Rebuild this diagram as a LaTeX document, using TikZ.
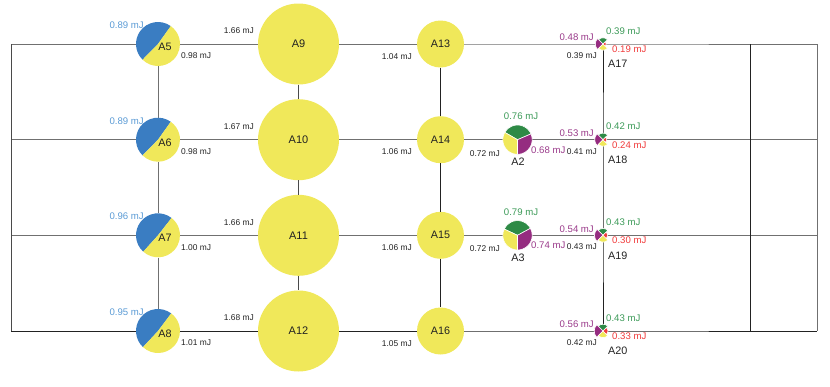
\documentclass[tikz,border=0pt]{standalone}
\usepackage{fontspec}
\setmainfont{Liberation Sans}
\usetikzlibrary{positioning}

\definecolor{pyellow}{HTML}{F0E85A}
\definecolor{pblue}{HTML}{3A7DC2}
\definecolor{lblue}{HTML}{5B9BD5}
\definecolor{pgreen}{HTML}{2E8A46}
\definecolor{lgreen}{HTML}{3C9A58}
\definecolor{ppurple}{HTML}{952C80}
\definecolor{lpurple}{HTML}{9A3A8A}
\definecolor{pred}{HTML}{F03A3A}
\definecolor{lgrey}{HTML}{707070}
\definecolor{dgrey}{HTML}{4A4A4A}
\definecolor{txt}{HTML}{222222}

% one wedge: centre, start, end, radius, style
\newcommand{\pieslice}[5]{\fill[#5] (#1) -- ++(#2:#4) arc[start angle=#2, end angle=#3, radius=#4] -- cycle;}

\begin{document}
\begin{tikzpicture}[x=1pt, y=-1pt,
        bigc/.style={circle, fill=pyellow, minimum size=81pt, inner sep=0pt, font=\fontsize{11}{13}\selectfont, text=txt},
        midc/.style={circle, fill=pyellow, minimum size=47pt, inner sep=0pt, font=\fontsize{10.8}{13}\selectfont, text=txt},
        piec/.style={circle, minimum size=44pt, inner sep=0pt},
        smallc/.style={circle, minimum size=29.5pt, inner sep=0pt},
        nm/.style={inner sep=0pt, font=\fontsize{10.8}{13}\selectfont, text=txt},
        val/.style={inner sep=0pt, font=\fontsize{8.4}{10}\selectfont, text=txt},
        cval/.style={inner sep=0pt, font=\fontsize{9.6}{11}\selectfont},
        gline/.style={draw=lgrey, line width=1pt},
        kline/.style={draw=txt, line width=0.9pt},
        cut/.style={draw=white, line width=0.6pt}
    ]
    \useasboundingbox (0,0) rectangle (830,386);

    % Circles
    \node[piec] (a5) at (158,44) {};
    \node[piec] (a6) at (158,139.7) {};
    \node[piec] (a7) at (158,235.3) {};
    \node[piec] (a8) at (158,331) {};
    \node[bigc] (a9) at (298.5,44) {A9};
    \node[bigc] (a10) at (298.5,139.7) {A10};
    \node[bigc] (a11) at (298.5,235.3) {A11};
    \node[bigc] (a12) at (298.5,331) {A12};
    \node[midc] (a13) at (440.5,44) {A13};
    \node[midc] (a14) at (440.5,139.7) {A14};
    \node[midc] (a15) at (440.5,235.3) {A15};
    \node[midc] (a16) at (440.5,331) {A16};
    \node[smallc] (a2) at (517.5,139.7) {};
    \node[smallc] (a3) at (517.5,235.3) {};
    \coordinate (a17) at (603,44);
    \coordinate (a18) at (603,139.7);
    \coordinate (a19) at (603,235.3);
    \coordinate (a20) at (603,331);

    % Frame ends
    \coordinate (l1) at (11,44);
    \coordinate (l2) at (11,139.7);
    \coordinate (l3) at (11,235.3);
    \coordinate (l4) at (11,331);
    \coordinate (r1) at (817,44);
    \coordinate (r2) at (817,139.7);
    \coordinate (r3) at (817,235.3);
    \coordinate (r4) at (817,331);
    \coordinate (m1) at (750,44);
    \coordinate (m4) at (750,331);

    % Lines
    \draw[gline] (l1) -- (a5) -- (a9) -- (a13) -- (a17) -- (r1);
    \draw[gline] (l2) -- (a6) -- (a10) -- (a14) -- (a2) -- (a18) -- (r2);
    \draw[gline] (l3) -- (a7) -- (a11) -- (a15) -- (a3) -- (a19) -- (r3);
    \draw[kline] (l4) -- (a8) -- (a12) -- (a16) -- (a20) -- (r4);
    \draw[gline] (a5) -- (a6) -- (a7) -- (a8);
    \draw[kline, draw=dgrey] (a9) -- (a10) -- (a11) -- (a12);
    \draw[kline] (a13) -- (a14) -- (a15) -- (a16);
    \draw[kline] (a17) -- (a18) -- (a19) -- (a20);
    \draw[kline] (m1) -- (m4);
    \draw[kline, draw=dgrey] (l1) -- (l4);
    \draw[gline] (r1) -- (r4);

    % Two-part pies
    \pieslice{a5.center}{54.5}{225.5}{22pt}{pblue}
    \pieslice{a5.center}{225.5}{414.5}{22pt}{pyellow}
    \pieslice{a6.center}{54.5}{225.5}{22pt}{pblue}
    \pieslice{a6.center}{225.5}{414.5}{22pt}{pyellow}
    \pieslice{a7.center}{52}{228}{22pt}{pblue}
    \pieslice{a7.center}{228}{412}{22pt}{pyellow}
    \pieslice{a8.center}{53}{227}{22pt}{pblue}
    \pieslice{a8.center}{227}{413}{22pt}{pyellow}

    % Three-part pies
    \pieslice{a2.center}{23.3}{150}{14.7pt}{pgreen, cut}
    \pieslice{a2.center}{150}{270}{14.7pt}{pyellow, cut}
    \pieslice{a2.center}{270}{383.3}{14.7pt}{ppurple, cut}
    \pieslice{a3.center}{28.4}{154.8}{14.7pt}{pgreen, cut}
    \pieslice{a3.center}{154.8}{270}{14.7pt}{pyellow, cut}
    \pieslice{a3.center}{270}{388.4}{14.7pt}{ppurple, cut}

    % Roses
    \pieslice{a17}{45}{135}{6.2pt}{pgreen, cut}
    \pieslice{a17}{135}{225}{7.7pt}{ppurple, cut}
    \pieslice{a17}{225}{315}{6.2pt}{pyellow, cut}
    \pieslice{a17}{315}{405}{3.2pt}{pred, cut}
    \pieslice{a18}{45}{135}{6.6pt}{pgreen, cut}
    \pieslice{a18}{135}{225}{8.3pt}{ppurple, cut}
    \pieslice{a18}{225}{315}{6.5pt}{pyellow, cut}
    \pieslice{a18}{315}{405}{3.8pt}{pred, cut}
    \pieslice{a19}{45}{135}{6.8pt}{pgreen, cut}
    \pieslice{a19}{135}{225}{8.5pt}{ppurple, cut}
    \pieslice{a19}{225}{315}{6.8pt}{pyellow, cut}
    \pieslice{a19}{315}{405}{4.7pt}{pred, cut}
    \pieslice{a20}{45}{135}{6.8pt}{pgreen, cut}
    \pieslice{a20}{135}{225}{8.8pt}{ppurple, cut}
    \pieslice{a20}{225}{315}{6.6pt}{pyellow, cut}
    \pieslice{a20}{315}{405}{5.1pt}{pred, cut}

    % Names
    \node[nm] (a5t) at (165,46.8) {A5};
    \node[nm] (a6t) at (165,142.5) {A6};
    \node[nm] (a7t) at (165,238.1) {A7};
    \node[nm] (a8t) at (165,333.8) {A8};
    \node[nm] (a2t) at (518,161.7) {A2};
    \node[nm] (a3t) at (518,257.3) {A3};
    \node[nm, anchor=west] (a17t) at (608,64) {A17};
    \node[nm, anchor=west] (a18t) at (608,159.7) {A18};
    \node[nm, anchor=west] (a19t) at (608,255.3) {A19};
    \node[nm, anchor=west] (a20t) at (608,351) {A20};

    % Row 1 values
    \node[cval, text=lblue, anchor=east] (v5a) at (144,25) {0.89 mJ};
    \node[val, anchor=west] (v5b) at (181,56) {0.98 mJ};
    \node[val, anchor=east] (v9) at (254,31) {1.66 mJ};
    \node[val, anchor=east] (v13) at (412,56.2) {1.04 mJ};
    \node[cval, text=lpurple, anchor=east] (v17a) at (594,37.5) {0.48 mJ};
    \node[cval, text=lgreen, anchor=west] (v17b) at (606,30.7) {0.39 mJ};
    \node[cval, text=pred, anchor=west] (v17c) at (612,49) {0.19 mJ};
    \node[val, anchor=east] (v17d) at (597,55.5) {0.39 mJ};

    % Row 2 values
    \node[cval, text=lblue, anchor=east] (v6a) at (144,120.7) {0.89 mJ};
    \node[val, anchor=west] (v6b) at (181,151.7) {0.98 mJ};
    \node[val, anchor=east] (v10) at (254,126.7) {1.67 mJ};
    \node[val, anchor=east] (v14) at (412,152) {1.06 mJ};
    \node[cval, text=lgreen] (v2a) at (521,116.2) {0.76 mJ};
    \node[cval, text=lpurple, anchor=west] (v2b) at (531,149.7) {0.68 mJ};
    \node[val, anchor=east] (v2c) at (500,153.2) {0.72 mJ};
    \node[cval, text=lpurple, anchor=east] (v18a) at (594,133.2) {0.53 mJ};
    \node[cval, text=lgreen, anchor=west] (v18b) at (606,126.4) {0.42 mJ};
    \node[cval, text=pred, anchor=west] (v18c) at (612,144.7) {0.24 mJ};
    \node[val, anchor=east] (v18d) at (597,151.2) {0.41 mJ};

    % Row 3 values
    \node[cval, text=lblue, anchor=east] (v7a) at (144,216.3) {0.96 mJ};
    \node[val, anchor=west] (v7b) at (181,247.3) {1.00 mJ};
    \node[val, anchor=east] (v11) at (254,222.3) {1.66 mJ};
    \node[val, anchor=east] (v15) at (412,247.6) {1.06 mJ};
    \node[cval, text=lgreen] (v3a) at (521,211.8) {0.79 mJ};
    \node[cval, text=lpurple, anchor=west] (v3b) at (531,245.3) {0.74 mJ};
    \node[val, anchor=east] (v3c) at (500,248.8) {0.72 mJ};
    \node[cval, text=lpurple, anchor=east] (v19a) at (594,228.8) {0.54 mJ};
    \node[cval, text=lgreen, anchor=west] (v19b) at (606,222) {0.43 mJ};
    \node[cval, text=pred, anchor=west] (v19c) at (612,240.3) {0.30 mJ};
    \node[val, anchor=east] (v19d) at (597,246.8) {0.43 mJ};

    % Row 4 values
    \node[cval, text=lblue, anchor=east] (v8a) at (144,312) {0.95 mJ};
    \node[val, anchor=west] (v8b) at (181,343) {1.01 mJ};
    \node[val, anchor=east] (v12) at (254,318) {1.68 mJ};
    \node[val, anchor=east] (v16) at (412,343.2) {1.05 mJ};
    \node[cval, text=lpurple, anchor=east] (v20a) at (594,324.5) {0.56 mJ};
    \node[cval, text=lgreen, anchor=west] (v20b) at (606,317.7) {0.43 mJ};
    \node[cval, text=pred, anchor=west] (v20c) at (612,336) {0.33 mJ};
    \node[val, anchor=east] (v20d) at (597,342.5) {0.42 mJ};

\end{tikzpicture}
\end{document}
